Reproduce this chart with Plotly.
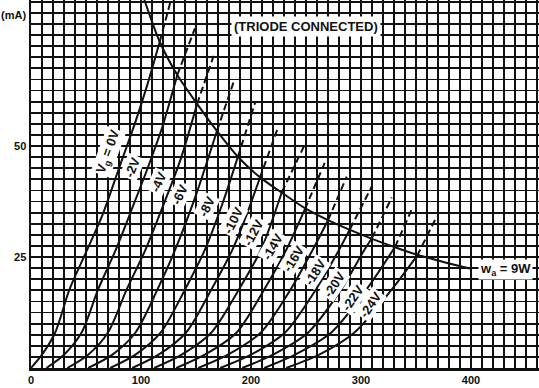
import plotly.graph_objects as go

# ---------------- data ----------------
grid_labels = ["V<sub>g</sub> = 0V", "-2V", "-4V", "-6V", "-8V", "-10V", "-12V",
               "-14V", "-16V", "-18V", "-20V", "-22V", "-24V"]

# solid part of each anode characteristic: anode voltage (V), anode current (mA)
solid_va = [
    [0, 10, 22, 35, 51, 65, 80, 95, 106, 117],
    [14, 30, 46, 61, 77, 92, 106, 119, 133],
    [33, 52, 70, 87, 104, 120, 136, 151],
    [52, 74, 95, 115, 131, 150, 169],
    [72, 95, 118, 140, 158, 174, 188],
    [92, 116, 141, 164, 183, 196, 208],
    [112, 137, 164, 189, 209, 228],
    [132, 158, 187, 212, 232, 249],
    [152, 179, 209, 236, 256, 270],
    [172, 200, 231, 259, 280, 290],
    [192, 220, 252, 282, 303, 310],
    [212, 240, 273, 305, 331],
    [232, 262, 294, 328, 351],
]
solid_ia = [
    [0, 3, 8, 17.7, 26.6, 34.5, 45, 55.5, 64, 73.5],
    [0, 3, 8, 17.7, 26.6, 36, 45, 54, 66],
    [0, 3, 8, 17.7, 26.6, 36.5, 47, 59.5],
    [0, 3, 8, 17.7, 26.6, 39, 53.4],
    [0, 3, 8, 17.7, 26.6, 37, 47.5],
    [0, 3, 8, 17.7, 26.6, 34.5, 42.8],
    [0, 3, 8, 17.7, 26.6, 39.6],
    [0, 3, 8, 17.7, 26.6, 35.8],
    [0, 3, 8, 17.7, 26.6, 33.3],
    [0, 3, 8, 17.7, 26.6, 31.3],
    [0, 3, 8, 17.7, 26.6, 29.3],
    [0, 3, 8, 17.7, 27.3],
    [0, 3, 8, 17.7, 25.3],
]
# dashed continuation (above the dissipation limit): end point of each curve
top_va = [128, 149, 166, 185, 204, 224, 249, 267, 287, 310, 328, 347, 369]
top_ia = [83.6, 76.5, 70.3, 65.0, 60.0, 53.8, 50.4, 46.2, 43.1, 41.0, 38.4, 36.2, 34.2]

# anode dissipation limit Wa = 9W
hyp_va = [103, 117, 133, 151, 169, 188, 208, 228, 249, 270, 290, 310, 331, 351, 375, 401]
hyp_ia = [83.0, 73.5, 66.0, 59.5, 53.4, 47.6, 43.0, 39.5, 36.0, 33.3, 31.1, 29.1, 27.2, 25.5, 23.9, 22.3]

x_tick_vals = [0, 100, 200, 300, 400]
x_tick_text = ["0", "100", "200", "300", "400"]
y_tick_vals = [25, 50]
y_tick_text = ["25", "50"]

# label placement (data coords) and angle
label_va = [70, 92.7, 115.5, 135.5, 160, 183.6, 202, 220, 239, 258, 276, 293, 309]
label_ia = [48.6, 45.3, 41.9, 39.0, 36.3, 33.3, 30.6, 27.3, 24.6, 21.6, 18.7, 15.8, 14.2]
label_angle = [-70, -68, -66, -65, -64, -63, -62, -60, -58, -57, -56, -55, -55]

# ---------------- figure ----------------
INK = "#111111"
FONT = "Liberation Sans"

fig = go.Figure()

for va, ia, tv, ti in zip(solid_va, solid_ia, top_va, top_ia):
    fig.add_trace(go.Scatter(x=va, y=ia, mode="lines",
                             line=dict(color=INK, width=2, shape="spline", smoothing=0.8),
                             hoverinfo="skip"))
    fig.add_trace(go.Scatter(x=[va[-1], tv], y=[ia[-1], ti], mode="lines",
                             line=dict(color=INK, width=2, dash="7px,4px"),
                             hoverinfo="skip"))

fig.add_trace(go.Scatter(x=hyp_va, y=hyp_ia, mode="lines",
                         line=dict(color=INK, width=2, shape="spline", smoothing=0.8),
                         hoverinfo="skip"))

for txt, xa, ya, ang in zip(grid_labels, label_va, label_ia, label_angle):
    fig.add_annotation(x=xa, y=ya, xref="x", yref="y", text="<b>" + txt + "</b>",
                       showarrow=False, textangle=ang, bgcolor="white", borderpad=1,
                       font=dict(family=FONT, size=13, color=INK))

fig.add_annotation(x=401, y=22.3, xref="x", yref="y", xanchor="left", xshift=6,
                   text="<b>w<sub>a</sub> = 9W</b>", showarrow=False, bgcolor="white",
                   font=dict(family=FONT, size=13, color=INK))

fig.add_annotation(x=250, y=77, xref="x", yref="y",
                   text="<b>(TRIODE CONNECTED)</b>", showarrow=False, bgcolor="white",
                   borderpad=2, font=dict(family=FONT, size=13, color=INK))

fig.add_annotation(x=0, y=1, xref="paper", yref="paper", xanchor="right", yanchor="top",
                   xshift=-3, yshift=-7, text="<b>(mA)</b>", showarrow=False,
                   font=dict(family=FONT, size=11, color=INK))

grid_style = dict(showgrid=True, gridcolor=INK, gridwidth=1.8)

fig.update_xaxes(range=[0, 461.8], tickmode="array", tickvals=x_tick_vals, ticktext=x_tick_text,
                 ticks="", zeroline=False, showline=True, linecolor=INK, linewidth=2.5,
                 tickfont=dict(family=FONT, size=11, color=INK, weight="bold"),
                 minor=dict(tick0=0, dtick=10, ticks="", **grid_style), **grid_style)
fig.update_yaxes(range=[0, 82.9], tickmode="array", tickvals=y_tick_vals, ticktext=y_tick_text,
                 ticks="", zeroline=False, showline=True, linecolor=INK, linewidth=2.5,
                 tickfont=dict(family=FONT, size=11, color=INK, weight="bold"),
                 minor=dict(tick0=0, dtick=2.5, ticks="", **grid_style), **grid_style)

fig.update_layout(width=539, height=388, margin=dict(l=31, r=0, t=0, b=20),
                  plot_bgcolor="white", paper_bgcolor="white", showlegend=False)

fig.write_html("out.html", config={"displayModeBar": False, "staticPlot": True})

# remove the browser's default page margin so the figure sits at the top-left corner
with open("out.html", "r", encoding="utf-8") as f:
    html = f.read()
html = html.replace("<head>", "<head><style>html,body{margin:0;padding:0;}</style>", 1)
with open("out.html", "w", encoding="utf-8") as f:
    f.write(html)
